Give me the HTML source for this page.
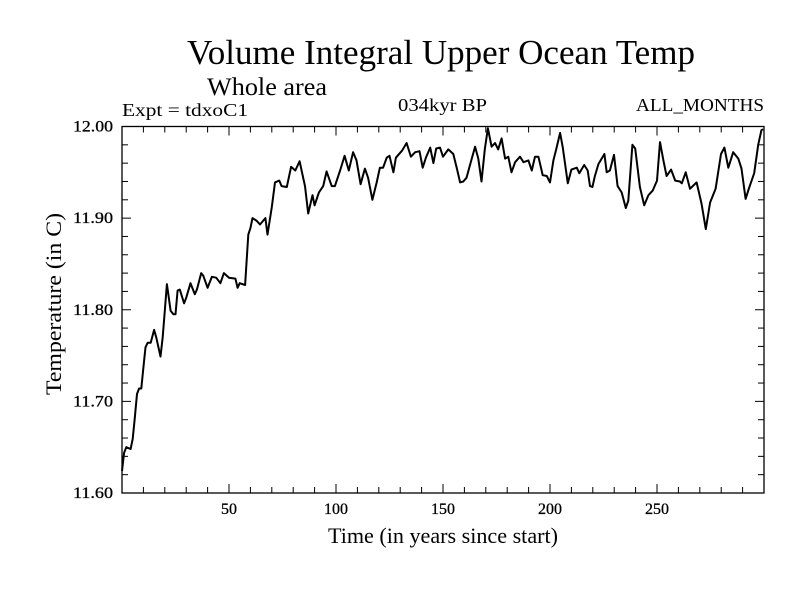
<!DOCTYPE html>
<html><head><meta charset="utf-8"><style>
body{margin:0;background:#fff}
svg{display:block;font-family:"Liberation Serif",serif}
</style></head><body>
<svg id="chart" width="800" height="600">
<text x="187" y="64" font-size="35" textLength="508" lengthAdjust="spacingAndGlyphs">Volume Integral Upper Ocean Temp</text>
<text x="207" y="95" font-size="25" textLength="120" lengthAdjust="spacingAndGlyphs">Whole area</text>
<text x="122" y="116" font-size="18" textLength="126" lengthAdjust="spacingAndGlyphs">Expt = tdxoC1</text>
<text x="398" y="111" font-size="18" textLength="89" lengthAdjust="spacingAndGlyphs">034kyr BP</text>
<text x="636" y="111" font-size="18" textLength="128" lengthAdjust="spacingAndGlyphs">ALL_MONTHS</text>
<text x="328" y="543" font-size="22" textLength="230" lengthAdjust="spacingAndGlyphs">Time (in years since start)</text>
<text transform="translate(61,395) rotate(-90)" font-size="22" textLength="182" lengthAdjust="spacingAndGlyphs">Temperature (in C)</text>
<g id="axes"></g>
<path id="series" fill="none" stroke="#000" stroke-width="2" stroke-linejoin="round"/>
</svg>
<script>
const years=[0,1,2,4,5,6,7,8,9,10,11,12,13.4,15,16,18,19,20,21,21.6,22.7,24,25,26,27,29,30,32,34,35,37,38,40,42,44,46,47.6,50,53,54,55,57.5,59,60,61,63,64.5,67,68,70,71.5,73.5,74.6,77,79,81,83,85.5,87,89,90,92,94,95.6,98,99.5,101.9,104,106,108,109.6,111.5,113.5,115,117,119,120.5,122,123.7,125,126.8,128,131,133,135,137,139,140.5,142,144,145.5,146.8,148.6,150,152.5,154.8,156.4,158,159.5,161,162.6,165,166.5,168,169.6,171,172.7,174.3,175.8,177.4,179,180.5,182,183.7,186,187.6,189.9,191.5,193,194.6,196.6,198.5,200,201.6,203,204.7,206,208.3,210,212.5,213.7,216,217.6,218.7,219.8,221,222.6,225.4,226.5,228,229.9,231.6,233.5,235.4,236.6,238.5,239.8,242,244,246,248,250,251.4,253,254.5,256.6,258.5,260.7,261.6,263.4,265.4,268.5,270.8,272.8,274.8,277.4,279.9,281.5,283.3,285.6,288,289.5,291.4,292.9,295.4,297.3,298.8,299.6];
const temps=[11.624,11.644,11.650,11.648,11.659,11.682,11.708,11.714,11.714,11.737,11.759,11.764,11.764,11.778,11.770,11.749,11.770,11.799,11.828,11.818,11.799,11.795,11.795,11.821,11.822,11.807,11.813,11.829,11.817,11.822,11.840,11.837,11.824,11.836,11.835,11.829,11.840,11.835,11.834,11.824,11.829,11.827,11.882,11.889,11.900,11.897,11.893,11.900,11.882,11.912,11.939,11.941,11.935,11.934,11.956,11.952,11.962,11.935,11.905,11.925,11.914,11.928,11.935,11.951,11.935,11.935,11.952,11.968,11.952,11.972,11.963,11.937,11.954,11.944,11.920,11.939,11.955,11.955,11.966,11.968,11.950,11.966,11.974,11.982,11.967,11.972,11.973,11.955,11.966,11.977,11.960,11.976,11.977,11.967,11.975,11.970,11.955,11.939,11.940,11.944,11.958,11.978,11.965,11.940,11.976,11.998,11.978,11.982,11.975,11.987,11.965,11.967,11.950,11.961,11.967,11.961,11.963,11.952,11.967,11.967,11.947,11.946,11.939,11.963,11.976,11.993,11.977,11.938,11.953,11.955,11.949,11.958,11.952,11.935,11.934,11.946,11.959,11.970,11.950,11.952,11.969,11.935,11.928,11.911,11.919,11.980,11.976,11.934,11.914,11.925,11.930,11.941,11.983,11.963,11.946,11.953,11.941,11.940,11.938,11.950,11.932,11.939,11.916,11.888,11.917,11.932,11.970,11.977,11.955,11.972,11.965,11.954,11.921,11.932,11.949,11.980,11.996,11.997];
const xTickLabels=[50,100,150,200,250];
const yTickLabels=["11.60","11.70","11.80","11.90","12.00"];
const X0=122,X1=764,Y0=493,Y1=126.5;
const xs=v=>X0+(v-0)/(300-0)*(X1-X0);
const ys=v=>Y0-(v-11.6)/(12.0-11.6)*(Y0-Y1);
const NS="http://www.w3.org/2000/svg";
const axes=document.getElementById('axes');
function mk(tag,attrs){const e=document.createElementNS(NS,tag);for(const k in attrs)e.setAttribute(k,attrs[k]);axes.appendChild(e);return e;}
const frame=mk('rect',{x:X0,y:Y1,width:X1-X0,height:Y0-Y1,fill:'none',stroke:'#000','stroke-width':1.3});


for(let t=10;t<300;t+=10){const L=(t%50===0)?9:6;const x=xs(t);
 const a=mk('line',{x1:x,y1:Y0,x2:x,y2:Y0-L,stroke:'#000'});
 
 
 const b=mk('line',{x1:x,y1:Y1,x2:x,y2:Y1+L,stroke:'#000'});
 
 }
for(let i=1;i<20;i++){const v=11.6+i*0.02;const L=(i%5===0)?9:6;const y=ys(v);
 const a=mk('line',{x1:X0,y1:y,x2:X0+L,y2:y,stroke:'#000'});
 
 
 const b=mk('line',{x1:X1,y1:y,x2:X1-L,y2:y,stroke:'#000'});
 
 }
xTickLabels.forEach(t=>{const e=mk('text',{x:xs(t),y:514,'font-size':16,'text-anchor':'middle','stroke':'#000','stroke-width':0.3});e.textContent=t;
 
 });
yTickLabels.forEach(t=>{const e=mk('text',{x:113,y:ys(parseFloat(t))+5,'font-size':16,'text-anchor':'end','textLength':40,'lengthAdjust':'spacingAndGlyphs','stroke':'#000','stroke-width':0.3});e.textContent=t;
 
 });
document.getElementById('series').setAttribute('d',years.map((y,i)=>(i?'L':'M')+xs(y).toFixed(1)+','+ys(temps[i]).toFixed(1)).join(''));
</script>
</body></html>
